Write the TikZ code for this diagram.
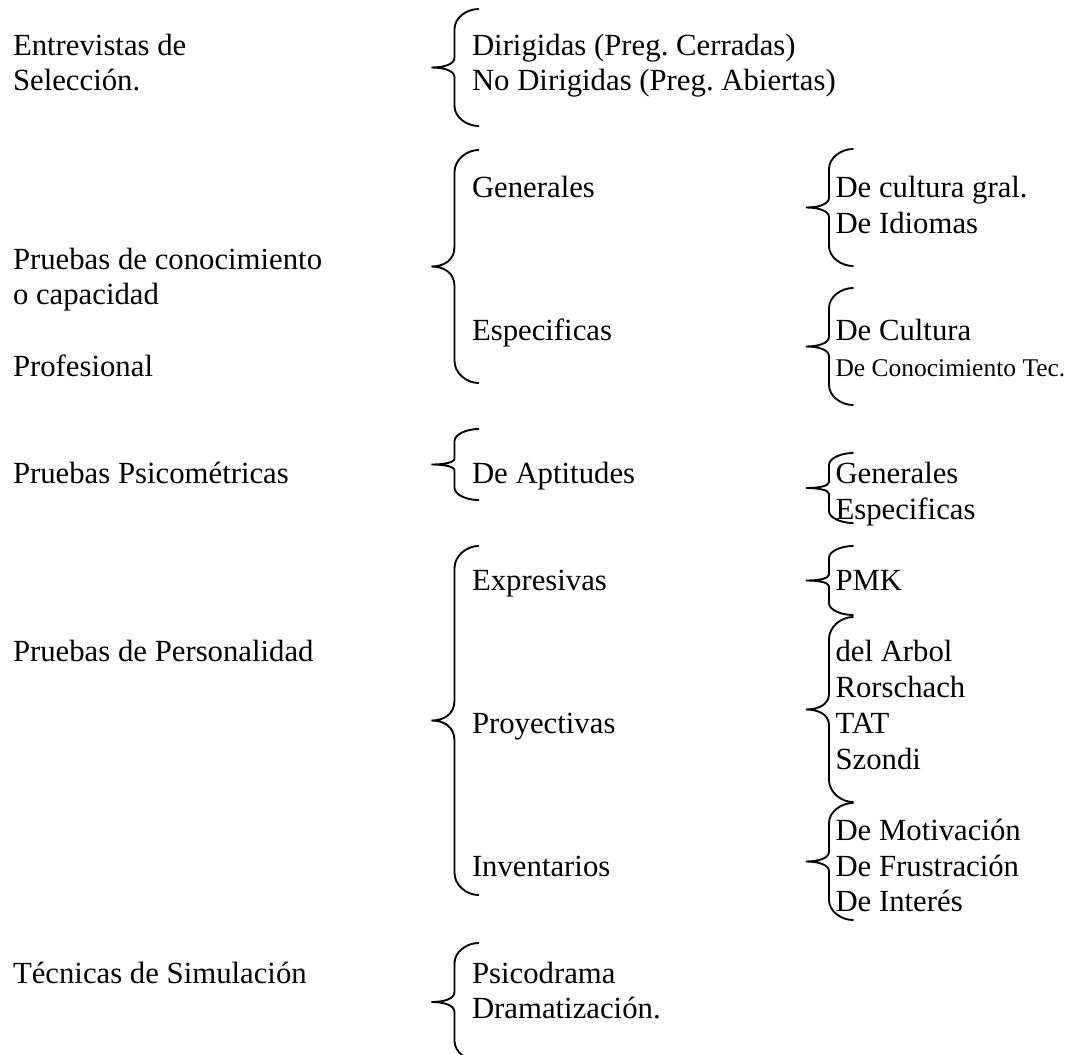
\documentclass[tikz,border=0pt]{standalone}
\usepackage{fontspec}
\setmainfont{Liberation Serif}
\frenchspacing
\tikzset{
	txt/.style={anchor=base west, inner sep=0pt, font=\fontsize{12.3}{14}\selectfont},
	txtchico/.style={txt, font=\fontsize{10.2}{12}\selectfont},
	llave/.style={line width=.75pt, line cap=round}
}
% llave: x de la punta, arriba, abajo
\newcommand{\llave}[3]{%
	\pgfmathsetmacro{\llm}{(#2+#3)/2}%
	\pgfmathsetmacro{\llr}{min(22,0.17*(#3-#2))}%
	\pgfmathsetmacro{\llp}{min(20,0.085*(#3-#2))}%
	\draw[llave] ({#1+47},#2) .. controls ({#1+35},#2) and ({#1+23},{#2+0.45*\llr}) .. ({#1+23},{#2+\llr})
		-- ({#1+23},{\llm-\llp}) .. controls ({#1+23},{\llm-0.3*\llp}) and ({#1+12},\llm) .. (#1,\llm)
		.. controls ({#1+12},\llm) and ({#1+23},{\llm+0.3*\llp}) .. ({#1+23},{\llm+\llp})
		-- ({#1+23},{#3-\llr}) .. controls ({#1+23},{#3-0.45*\llr}) and ({#1+35},#3) .. ({#1+47},#3);
}
\newcommand{\fila}[1]{55+35.7*#1}
\begin{document}
\begin{tikzpicture}[x=.4pt,y=-.4pt]
	\useasboundingbox (0,0) rectangle (1080,1054);
	\def\colA{12.5}
	\def\colB{471.5}
	\def\colC{835}
	
	\node[txt] (entrevistas) at (\colA,{\fila{0}}) {Entrevistas de};
	\node[txt] (seleccion) at (\colA,{\fila{1}}) {Selección.};
	\node[txt] (conocimiento) at (\colA,{\fila{6}}) {Pruebas de conocimiento};
	\node[txt] (capacidad) at (\colA,{\fila{7}}) {o capacidad};
	\node[txt] (profesional) at (\colA,{\fila{9}}) {Profesional};
	\node[txt] (psicometricas) at (\colA,{\fila{12}}) {Pruebas Psicométricas};
	\node[txt] (personalidad) at (\colA,{\fila{17}}) {Pruebas de Personalidad};
	\node[txt] (simulacion) at (\colA,{\fila{26}}) {Técnicas de Simulación};
	
	\node[txt] (dirigidas) at (\colB,{\fila{0}}) {Dirigidas (Preg. Cerradas)};
	\node[txt] (nodirigidas) at (\colB,{\fila{1}}) {No Dirigidas (Preg. Abiertas)};
	\node[txt] (generales) at (\colB,{\fila{4}}) {Generales};
	\node[txt] (especificas) at (\colB,{\fila{8}}) {Especificas};
	\node[txt] (aptitudes) at (\colB,{\fila{12}}) {De Aptitudes};
	\node[txt] (expresivas) at (\colB,{\fila{15}}) {Expresivas};
	\node[txt] (proyectivas) at (\colB,{\fila{19}}) {Proyectivas};
	\node[txt] (inventarios) at (\colB,{\fila{23}}) {Inventarios};
	\node[txt] (psicodrama) at (\colB,{\fila{26}}) {Psicodrama};
	\node[txt] (dramatizacion) at (\colB,{\fila{27}}) {Dramatización.};
	
	\node[txt] (culturagral) at (\colC,{\fila{4}}) {De cultura gral.};
	\node[txt] (idiomas) at (\colC,{\fila{5}}) {De Idiomas};
	\node[txt] (cultura) at (\colC,{\fila{8}}) {De Cultura};
	\node[txtchico] (conoctec) at (\colC,{\fila{9}}) {De Conocimiento Tec.};
	\node[txt] (aptgenerales) at (\colC,{\fila{12}}) {Generales};
	\node[txt] (aptespecificas) at (\colC,{\fila{13}}) {Especificas};
	\node[txt] (pmk) at (\colC,{\fila{15}}) {PMK};
	\node[txt] (arbol) at (\colC,{\fila{17}}) {del Arbol};
	\node[txt] (rorschach) at (\colC,{\fila{18}}) {Rorschach};
	\node[txt] (tat) at (\colC,{\fila{19}}) {TAT};
	\node[txt] (szondi) at (\colC,{\fila{20}}) {Szondi};
	\node[txt] (motivacion) at (\colC,{\fila{22}}) {De Motivación};
	\node[txt] (frustracion) at (\colC,{\fila{23}}) {De Frustración};
	\node[txt] (interes) at (\colC,{\fila{24}}) {De Interés};
	
	\llave{431.5}{9}{126}
	\llave{431.5}{150}{383}
	\llave{431.5}{429}{500}
	\llave{431.5}{546}{895}
	\llave{431.5}{943}{1061}
	
	\llave{806}{149}{266}
	\llave{806}{288}{405}
	\llave{806}{453}{523}
	\llave{806}{546}{615}
	\llave{806}{617}{802}
	\llave{806}{803}{920}
\end{tikzpicture}
\end{document}
